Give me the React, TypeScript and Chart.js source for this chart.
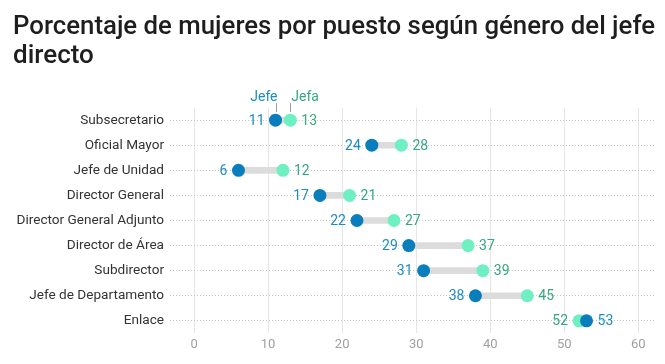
import React, { useEffect, useRef } from "react";
import { Chart, registerables } from "chart.js";

Chart.register(...registerables);

const titleLines = ["Porcentaje de mujeres por puesto según género del jefe", "directo"];
const categories = [
  "Subsecretario",
  "Oficial Mayor",
  "Jefe de Unidad",
  "Director General",
  "Director General Adjunto",
  "Director de Área",
  "Subdirector",
  "Jefe de Departamento",
  "Enlace",
];
const jefeValues = [11, 24, 6, 17, 22, 29, 31, 38, 53];
const jefaValues = [13, 28, 12, 21, 27, 37, 39, 45, 52];
const xTicks = [0, 10, 20, 30, 40, 50, 60];
const seriesNames = ["Jefe", "Jefa"];

const JEFE_DOT = "#0a7dbd";
const JEFA_DOT = "#6ff0c2";
const JEFE_TEXT = "#1b8cc6";
const JEFA_TEXT = "#34a97c";
const FONT = "Roboto, 'Noto Sans', sans-serif";

const labelPlugin = {
  id: "dumbbellLabels",
  afterDatasetsDraw(chart: any) {
    const ctx = chart.ctx;
    const jefaMeta = chart.getDatasetMeta(1);
    const jefeMeta = chart.getDatasetMeta(2);
    ctx.save();
    ctx.font = `14px ${FONT}`;
    ctx.textBaseline = "middle";
    categories.forEach((_, i) => {
      const pe = jefeMeta.data[i];
      const pa = jefaMeta.data[i];
      const jefeLow = jefeValues[i] <= jefaValues[i];
      const low = jefeLow ? pe : pa;
      const high = jefeLow ? pa : pe;
      const lowVal = jefeLow ? jefeValues[i] : jefaValues[i];
      const highVal = jefeLow ? jefaValues[i] : jefeValues[i];
      ctx.fillStyle = jefeLow ? JEFE_TEXT : JEFA_TEXT;
      ctx.textAlign = "right";
      ctx.fillText(String(lowVal), low.x - 11, low.y + 1);
      ctx.fillStyle = jefeLow ? JEFA_TEXT : JEFE_TEXT;
      ctx.textAlign = "left";
      ctx.fillText(String(highVal), high.x + 11, high.y + 1);
    });
    // series annotation above the first row
    const pe0 = jefeMeta.data[0];
    const pa0 = jefaMeta.data[0];
    ctx.strokeStyle = "#9a9a9a";
    ctx.lineWidth = 1;
    ctx.beginPath();
    ctx.moveTo(Math.round(pe0.x) + 0.5, pe0.y - 17);
    ctx.lineTo(Math.round(pe0.x) + 0.5, pe0.y - 8);
    ctx.moveTo(Math.round(pa0.x) + 0.5, pa0.y - 17);
    ctx.lineTo(Math.round(pa0.x) + 0.5, pa0.y - 8);
    ctx.stroke();
    ctx.textBaseline = "middle";
    ctx.fillStyle = JEFE_TEXT;
    ctx.textAlign = "right";
    ctx.fillText(seriesNames[0], pe0.x + 2, pe0.y - 23);
    ctx.fillStyle = JEFA_TEXT;
    ctx.textAlign = "left";
    ctx.fillText(seriesNames[1], pa0.x + 1, pa0.y - 23);
    ctx.restore();
  },
};

export default function App() {
  const ref = useRef<HTMLCanvasElement | null>(null);
  useEffect(() => {
    if (!ref.current) return;
    const chart = new Chart(ref.current, {
      type: "bar",
      data: {
        labels: categories,
        datasets: [
          {
            type: "bar",
            label: "range",
            data: categories.map((_, i) => [jefeValues[i], jefaValues[i]]) as any,
            backgroundColor: "#dcdcdc",
            barThickness: 6,
            borderWidth: 0,
            order: 3,
          } as any,
          {
            type: "line",
            label: seriesNames[1],
            data: categories.map((c, i) => ({ x: jefaValues[i], y: c })) as any,
            showLine: false,
            pointRadius: 6.5,
            pointBorderWidth: 0,
            pointBackgroundColor: JEFA_DOT,
            backgroundColor: JEFA_DOT,
            borderColor: JEFA_DOT,
            indexAxis: "y",
            order: 2,
          } as any,
          {
            type: "line",
            label: seriesNames[0],
            data: categories.map((c, i) => ({ x: jefeValues[i], y: c })) as any,
            showLine: false,
            pointRadius: 6.5,
            pointBorderWidth: 0,
            pointBackgroundColor: JEFE_DOT,
            backgroundColor: JEFE_DOT,
            borderColor: JEFE_DOT,
            indexAxis: "y",
            order: 1,
          } as any,
        ],
      },
      options: {
        indexAxis: "y",
        animation: false,
        responsive: false,
        maintainAspectRatio: false,
        layout: { padding: { left: 13, right: 10, top: 0, bottom: 7 } },
        plugins: {
          legend: { display: false },
          tooltip: { enabled: false },
          title: {
            display: true,
            text: titleLines,
            align: "start",
            color: "#1e1e1e",
            font: { family: FONT, size: 26, weight: "500", lineHeight: 1.09 },
            padding: { top: 13.6, bottom: 37.3 },
          },
        },
        scales: {
          x: {
            type: "linear",
            min: -3.25,
            max: 62.25,
            afterBuildTicks: (scale: any) => {
              scale.ticks = xTicks.map((v) => ({ value: v }));
            },
            grid: { color: "#e6e6e6", lineWidth: 1, drawTicks: false },
            border: { display: false },
            ticks: {
              color: "#a0a0a0",
              padding: 4,
              font: { family: FONT, size: 13 },
            },
          },
          y: {
            type: "category",
            offset: true,
            afterFit: (scale: any) => {
              scale.width = 157;
            },
            grid: { color: "#c4c4c4", lineWidth: 1, drawTicks: false, offset: false },
            border: { display: false, dash: [1, 2] },
            ticks: {
              color: "#333",
              padding: 6,
              font: { family: FONT, size: 13.6 },
            },
          },
        },
      } as any,
      plugins: [labelPlugin],
    });
    return () => chart.destroy();
  }, []);
  return (
    <div style={{ position: "fixed", left: 0, top: 0, width: 665, height: 364, background: "#fff" }}>
      <canvas ref={ref} width={665} height={364} style={{ display: "block", width: 665, height: 364 }} />
    </div>
  );
}
